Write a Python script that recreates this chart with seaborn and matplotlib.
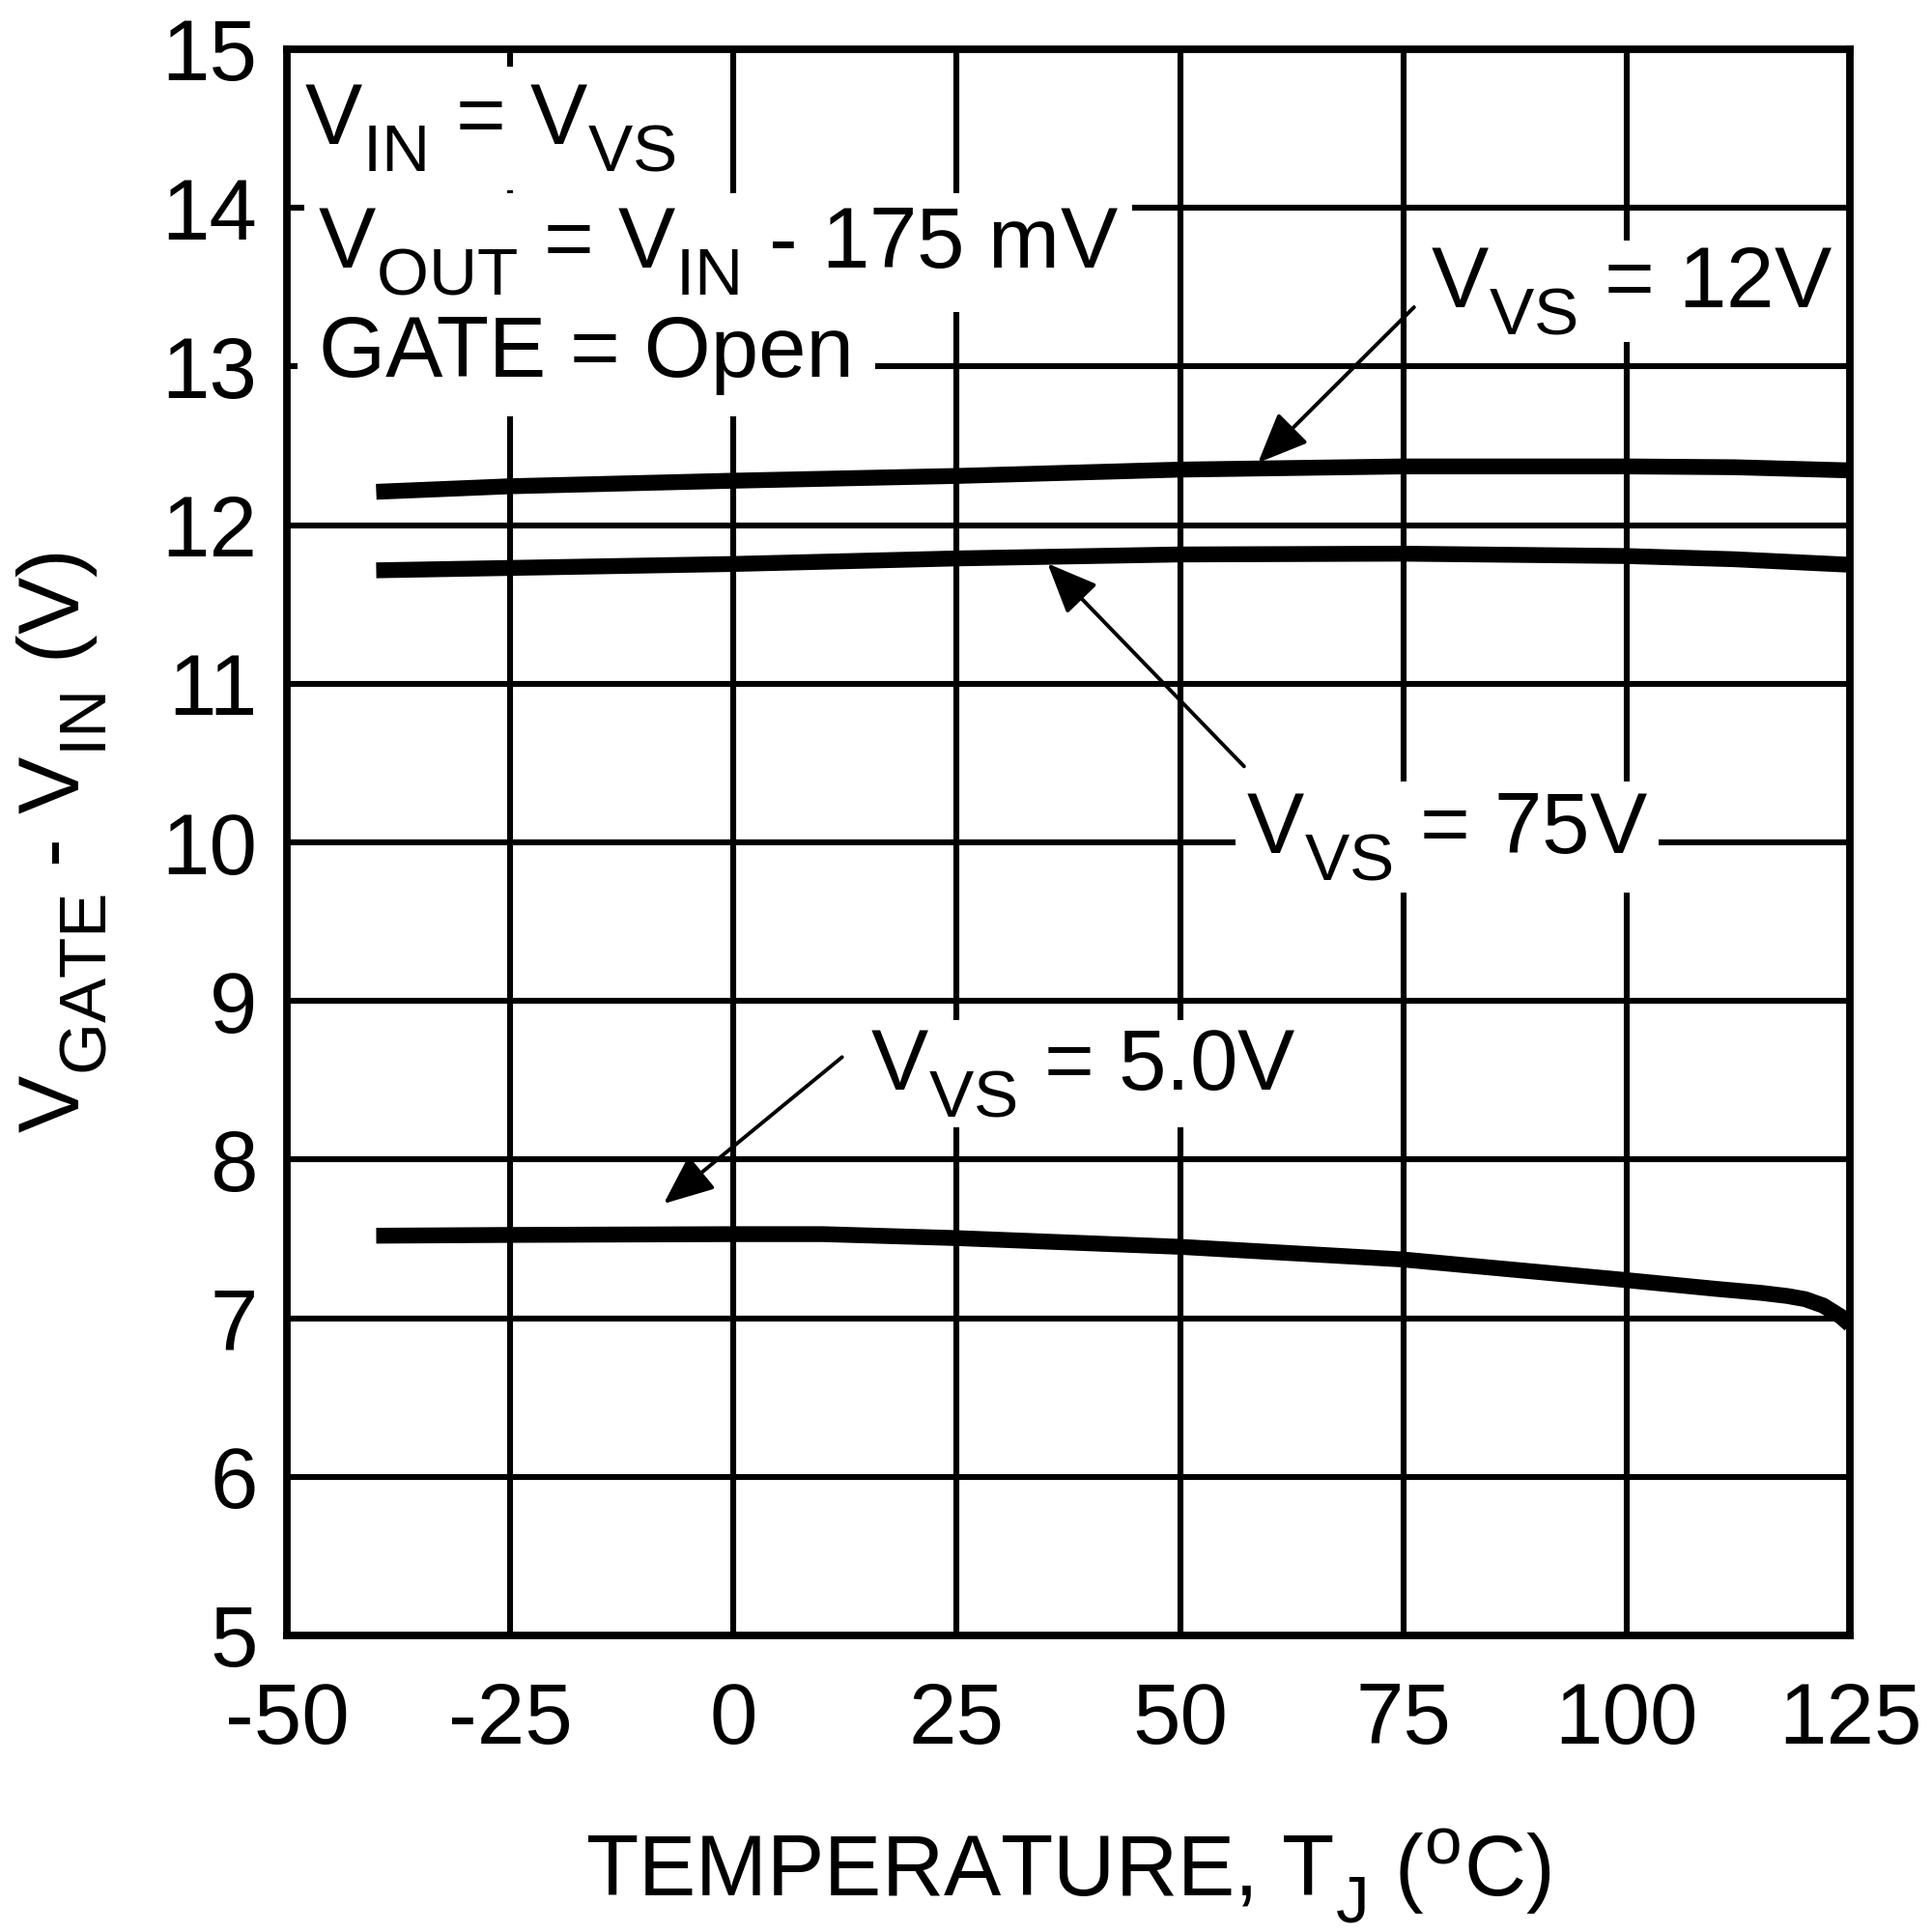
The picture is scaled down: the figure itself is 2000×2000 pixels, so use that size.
import pandas as pd
import matplotlib
matplotlib.use('Agg')
import matplotlib.pyplot as plt
import seaborn as sns

# Datos (temperatura en ºC, tension en V)
temp_12v = [-40, -25, 0, 25, 50, 75, 100, 112, 125]
vgate_12v = [12.21, 12.245, 12.28, 12.31, 12.35, 12.37, 12.37, 12.365, 12.345]

temp_75v = [-40, -25, 0, 25, 50, 75, 100, 112, 125]
vgate_75v = [11.715, 11.73, 11.755, 11.79, 11.815, 11.82, 11.805, 11.785, 11.75]

temp_5v = [-40, -25, 0, 10, 25, 50, 75, 100, 110, 115, 118, 120, 122, 124, 125]
vgate_5v = [7.52, 7.525, 7.53, 7.53, 7.505, 7.45, 7.37, 7.24, 7.185, 7.16, 7.14, 7.12, 7.08, 7.01, 6.96]

x_ticks = [-50, -25, 0, 25, 50, 75, 100, 125]
y_ticks = [5, 6, 7, 8, 9, 10, 11, 12, 13, 14, 15]

df = pd.concat([
    pd.DataFrame({'T': temp_12v, 'V': vgate_12v, 'serie': '12V'}),
    pd.DataFrame({'T': temp_75v, 'V': vgate_75v, 'serie': '75V'}),
    pd.DataFrame({'T': temp_5v, 'V': vgate_5v, 'serie': '5.0V'}),
])

sns.set_theme(style='white')
plt.rcParams['font.family'] = ['Liberation Sans', 'DejaVu Sans']
plt.rcParams['mathtext.fontset'] = 'custom'
plt.rcParams['mathtext.rm'] = 'Liberation Sans'
plt.rcParams['mathtext.it'] = 'Liberation Sans'
plt.rcParams['text.color'] = 'black'
plt.rcParams['axes.labelcolor'] = 'black'
plt.rcParams['axes.unicode_minus'] = False

# subindices un poco mas grandes y mas bajos, como en el original
try:
    from matplotlib import _mathtext
    _mathtext.SHRINK_FACTOR = 0.78
    _mathtext.FontConstantsBase.sub1 = 0.6
except Exception:
    pass

fig = plt.figure(figsize=(10, 10), dpi=200)
ax = fig.add_axes([0.1485, 0.1535, 0.809, 0.821])

sns.lineplot(data=df, x='T', y='V', hue='serie', palette=['black'] * 3,
             legend=False, linewidth=5.9, errorbar=None, sort=False,
             solid_capstyle='butt', ax=ax, zorder=4)

ax.set_xlim(-50, 125)
ax.set_ylim(5, 15)
ax.set_xticks(x_ticks)
ax.set_yticks(y_ticks)
ax.grid(True, color='black', linewidth=2.2)
ax.set_axisbelow(True)
for s in ax.spines.values():
    s.set_color('black')
    s.set_linewidth(2.8)
    s.set_zorder(7)
ax.tick_params(axis='x', length=0, pad=17, labelsize=32, colors='black')
ax.tick_params(axis='y', length=0, pad=11, labelsize=32, colors='black')

ax.set_xlabel('TEMPERATURE, T$_\\mathregular{J}$ ($^\\mathregular{o}$C)', fontsize=32)
ax.set_ylabel('V$_\\mathregular{GATE}$ - V$_\\mathregular{IN}$ (V)', fontsize=32)
ax.xaxis.set_label_coords(0.5, -0.12)
ax.yaxis.set_label_coords(-0.114, 0.5)

# Textos con fondo blanco
def etiqueta(x, y, s, pad, z=5):
    ax.text(x, y, s, fontsize=32, ha='left', va='baseline', zorder=z,
            bbox=dict(facecolor='white', edgecolor='none', pad=pad))

etiqueta(-48.1, 14.40, 'V$_\\mathregular{IN}$ = V$_\\mathregular{VS}$', 6, 5.3)
etiqueta(-46.5, 13.62, 'V$_\\mathregular{OUT}$ = V$_\\mathregular{IN}$ - 175 mV', 5, 5.2)
etiqueta(-46.4, 12.935, 'GATE = Open', 8, 5.1)
etiqueta(78.1, 13.374, 'V$_\\mathregular{VS}$ = 12V', 2)
etiqueta(57.4, 9.933, 'V$_\\mathregular{VS}$ = 75V', 4)
etiqueta(15.3, 8.441, 'V$_\\mathregular{VS}$ = 5.0V', 3)

# Flechas
flecha = dict(arrowstyle='-|>,head_length=0.8,head_width=0.34', color='black',
              lw=1.4, shrinkA=0, shrinkB=0, mutation_scale=20)
ax.annotate('', xy=(58.73, 12.393), xytext=(76.2, 13.374), arrowprops=flecha, zorder=6)
ax.annotate('', xy=(35.17, 11.758), xytext=(57.17, 10.479), arrowprops=flecha, zorder=6)
ax.annotate('', xy=(-7.81, 7.722), xytext=(12.16, 8.646), arrowprops=flecha, zorder=6)

plt.savefig('out.png', dpi=200)
